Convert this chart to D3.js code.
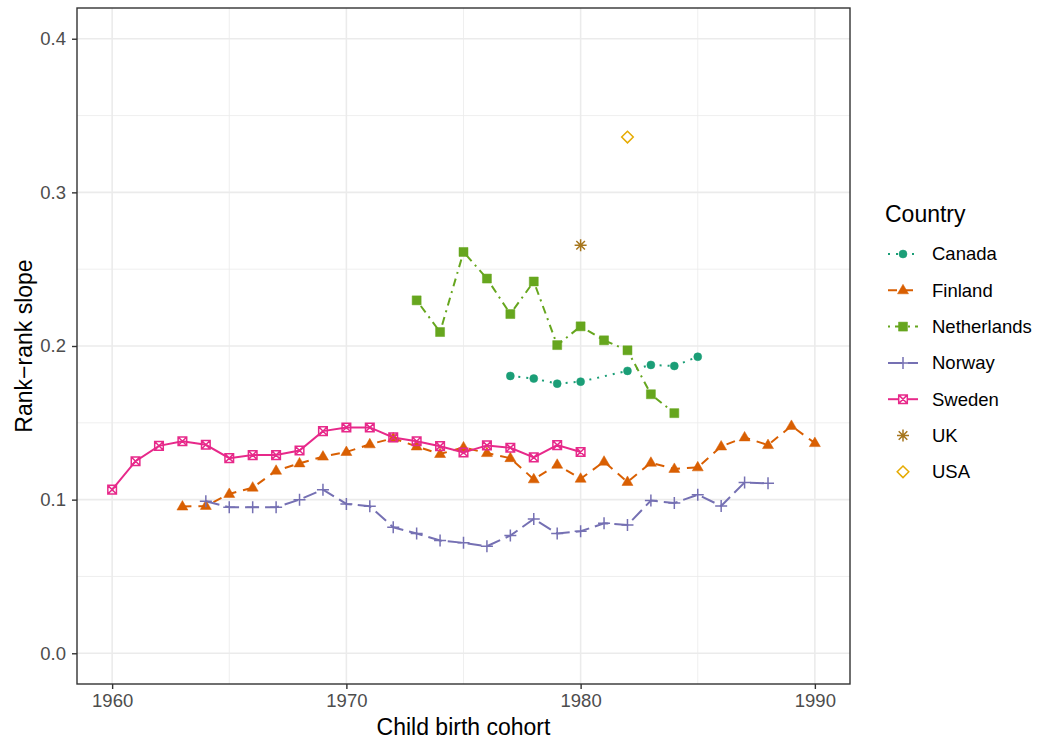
<!DOCTYPE html>
<html>
<head>
<meta charset="utf-8">
<script src="https://cdn.jsdelivr.net/npm/d3@7"></script>
<style>
body { margin: 0; background: #fff; }
svg { font-family: 'Liberation Sans', Arial, sans-serif; }
</style>
</head>
<body>
<div id="graphic"></div>
<script>
// data
var countries = ['Canada', 'Finland', 'Netherlands', 'Norway', 'Sweden', 'UK', 'USA'];
var colours = ['#1B9E77', '#D95F02', '#66A61E', '#7570B3', '#E7298A', '#A6761D', '#E6AB02'];

var canadaYears = [1977, 1978, 1979, 1980, 1982, 1983, 1984, 1985];
var canadaValues = [0.1805, 0.1788, 0.1755, 0.1768, 0.1838, 0.1877, 0.187, 0.193];

var finlandYears = [1963, 1964, 1965, 1966, 1967, 1968, 1969, 1970, 1971, 1972, 1973, 1974, 1975, 1976,
	1977, 1978, 1979, 1980, 1981, 1982, 1983, 1984, 1985, 1986, 1987, 1988, 1989, 1990];
var finlandValues = [0.0955, 0.0959, 0.1037, 0.1078, 0.1188, 0.1236, 0.128, 0.131, 0.136, 0.140, 0.1346, 0.1297, 0.134, 0.1303,
	0.127, 0.1132, 0.1227, 0.1136, 0.1247, 0.1115, 0.124, 0.12, 0.121, 0.1346, 0.1405, 0.1355, 0.148, 0.1368];

var netherlandsYears = [1973, 1974, 1975, 1976, 1977, 1978, 1979, 1980, 1981, 1982, 1983, 1984];
var netherlandsValues = [0.2297, 0.2091, 0.2612, 0.2439, 0.2208, 0.242, 0.2006, 0.2128, 0.2037, 0.1972, 0.1686, 0.1563];

var norwayYears = [1964, 1965, 1966, 1967, 1968, 1969, 1970, 1971, 1972, 1973, 1974, 1975, 1976,
	1977, 1978, 1979, 1980, 1981, 1982, 1983, 1984, 1985, 1986, 1987, 1988];
var norwayValues = [0.0989, 0.095, 0.095, 0.095, 0.100, 0.1065, 0.0972, 0.0957, 0.082, 0.078, 0.0734, 0.0719, 0.0697,
	0.0766, 0.0874, 0.078, 0.0794, 0.0846, 0.0835, 0.0994, 0.0978, 0.1032, 0.0959, 0.1112, 0.1106];

var swedenYears = [1960, 1961, 1962, 1963, 1964, 1965, 1966, 1967, 1968, 1969, 1970, 1971, 1972, 1973, 1974,
	1975, 1976, 1977, 1978, 1979, 1980];
var swedenValues = [0.1065, 0.125, 0.135, 0.138, 0.1357, 0.127, 0.129, 0.129, 0.132, 0.1446, 0.147, 0.147, 0.1405, 0.138, 0.1348,
	0.1307, 0.1353, 0.1338, 0.1275, 0.1355, 0.131];

var ukYears = [1980];
var ukValues = [0.2656];
var usaYears = [1982];
var usaValues = [0.336];

var xTicks = [1960, 1970, 1980, 1990];
var yTicks = [0, 0.1, 0.2, 0.3, 0.4];

// series table
var series = [
	{ name: 'Canada', years: canadaYears, values: canadaValues, dash: '2,6', shape: 'circle', line: true },
	{ name: 'Finland', years: finlandYears, values: finlandValues, dash: '9,7', shape: 'triangle', line: true },
	{ name: 'Netherlands', years: netherlandsYears, values: netherlandsValues, dash: '2,5,8,5', shape: 'square', line: true },
	{ name: 'Norway', years: norwayYears, values: norwayValues, dash: '14,6', shape: 'plus', line: true },
	{ name: 'Sweden', years: swedenYears, values: swedenValues, dash: null, shape: 'squarex', line: true },
	{ name: 'UK', years: ukYears, values: ukValues, dash: null, shape: 'asterisk', line: false },
	{ name: 'USA', years: usaYears, values: usaValues, dash: null, shape: 'diamond', line: false }
];
series.forEach(function (s, i) {
	s.colour = colours[i];
	s.points = s.years.map(function (yr, j) { return { year: yr, value: s.values[j] }; });
});

var width = 1042, height = 743;
var margin = { top: 8, right: 192, bottom: 59, left: 77 };
var chart_width = width - margin.left - margin.right;
var chart_height = height - margin.top - margin.bottom;

var svg = d3.select('#graphic').append('svg')
	.attr('width', width)
	.attr('height', height);

var g = svg.append('g').attr('transform', 'translate(' + margin.left + ',' + margin.top + ')');

var x = d3.scaleLinear().domain([1958.5, 1991.5]).range([0, chart_width]);
var y = d3.scaleLinear().domain([-0.02, 0.42]).range([chart_height, 0]);

// grid: minor then major
var xMinor = [1965, 1975, 1985];
var yMinor = [0.05, 0.15, 0.25, 0.35];
g.selectAll('line.xminor').data(xMinor).join('line')
	.attr('x1', function (d) { return x(d); }).attr('x2', function (d) { return x(d); })
	.attr('y1', 0).attr('y2', chart_height)
	.attr('stroke', '#EBEBEB').attr('stroke-width', 0.8);
g.selectAll('line.yminor').data(yMinor).join('line')
	.attr('y1', function (d) { return y(d); }).attr('y2', function (d) { return y(d); })
	.attr('x1', 0).attr('x2', chart_width)
	.attr('stroke', '#EBEBEB').attr('stroke-width', 0.8);
g.selectAll('line.xmajor').data(xTicks).join('line')
	.attr('x1', function (d) { return x(d); }).attr('x2', function (d) { return x(d); })
	.attr('y1', 0).attr('y2', chart_height)
	.attr('stroke', '#EBEBEB').attr('stroke-width', 1.6);
g.selectAll('line.ymajor').data(yTicks).join('line')
	.attr('y1', function (d) { return y(d); }).attr('y2', function (d) { return y(d); })
	.attr('x1', 0).attr('x2', chart_width)
	.attr('stroke', '#EBEBEB').attr('stroke-width', 1.6);

// marker paths
function shapePath(shape) {
	switch (shape) {
		case 'circle': return 'M4,0A4,4 0 1,1 -4,0A4,4 0 1,1 4,0Z';
		case 'triangle': return 'M0,-6L5.5,3.5L-5.5,3.5Z';
		case 'square': return 'M-4.5,-4.5H4.5V4.5H-4.5Z';
		case 'plus': return 'M-6,0H6M0,-6V6';
		case 'squarex': return 'M-4.3,-4.3H4.3V4.3H-4.3ZM-4.3,-4.3L4.3,4.3M4.3,-4.3L-4.3,4.3';
		case 'asterisk': return 'M-6,0H6M0,-6V6M-4.3,-4.3L4.3,4.3M4.3,-4.3L-4.3,4.3';
		case 'diamond': return 'M0,-5.8L5.8,0L0,5.8L-5.8,0Z';
	}
}
function isFilled(shape) {
	return shape === 'circle' || shape === 'triangle' || shape === 'square';
}

var line = d3.line()
	.x(function (d) { return x(d.year); })
	.y(function (d) { return y(d.value); });

series.forEach(function (s) {
	if (s.line) {
		g.append('path')
			.datum(s.points)
			.attr('d', line)
			.attr('fill', 'none')
			.attr('stroke', s.colour)
			.attr('stroke-width', 2)
			.attr('stroke-dasharray', s.dash);
	}
});

series.forEach(function (s) {
	g.selectAll(null).data(s.points).join('path')
		.attr('transform', function (d) { return 'translate(' + x(d.year) + ',' + y(d.value) + ')'; })
		.attr('d', shapePath(s.shape))
		.attr('fill', isFilled(s.shape) ? s.colour : 'none')
		.attr('stroke', s.colour)
		.attr('stroke-width', isFilled(s.shape) ? 0.5 : 1.5);
});

// panel border
g.append('rect')
	.attr('width', chart_width).attr('height', chart_height)
	.attr('fill', 'none').attr('stroke', '#333333').attr('stroke-width', 1.4);

// axes
var xAxis = d3.axisBottom(x).tickValues(xTicks).tickFormat(d3.format('d')).tickSize(5).tickPadding(5);
var yAxis = d3.axisLeft(y).tickValues(yTicks).tickFormat(d3.format('.1f')).tickSize(5).tickPadding(6);

var gx = g.append('g').attr('transform', 'translate(0,' + chart_height + ')').call(xAxis);
var gy = g.append('g').call(yAxis);
[gx, gy].forEach(function (ax) {
	ax.select('.domain').remove();
	ax.selectAll('line').attr('stroke', '#333333').attr('stroke-width', 1.4);
	ax.selectAll('text').attr('fill', '#4D4D4D').style('font-size', '18.5px')
		.style('font-family', "'Liberation Sans', Arial, sans-serif");
});

// axis titles
svg.append('text')
	.attr('x', margin.left + chart_width / 2)
	.attr('y', 735)
	.attr('text-anchor', 'middle')
	.style('font-size', '23px')
	.text('Child birth cohort');

svg.append('text')
	.attr('transform', 'translate(32,' + (margin.top + chart_height / 2) + ') rotate(-90)')
	.attr('text-anchor', 'middle')
	.style('font-size', '23px')
	.text('Rank\u2212rank slope');

// legend
var legend = svg.append('g').attr('transform', 'translate(885,0)');
legend.append('text')
	.attr('x', 0).attr('y', 222)
	.style('font-size', '23px')
	.text('Country');

var items = legend.selectAll('g.item').data(series).join('g')
	.attr('transform', function (d, i) { return 'translate(0,' + (254 + i * 36.3) + ')'; });

items.filter(function (d) { return d.line; }).append('line')
	.attr('x1', 3).attr('x2', 33)
	.attr('stroke', function (d) { return d.colour; })
	.attr('stroke-width', 2)
	.attr('stroke-dasharray', function (d) { return d.dash; });

items.append('path')
	.attr('transform', 'translate(18,0)')
	.attr('d', function (d) { return shapePath(d.shape); })
	.attr('fill', function (d) { return isFilled(d.shape) ? d.colour : '#fff'; })
	.attr('stroke', function (d) { return d.colour; })
	.attr('stroke-width', function (d) { return isFilled(d.shape) ? 0.5 : 1.5; });

items.append('text')
	.attr('x', 47).attr('y', 0).attr('dy', '0.35em')
	.style('font-size', '18.5px')
	.text(function (d) { return d.name; });
</script>
</body>
</html>
